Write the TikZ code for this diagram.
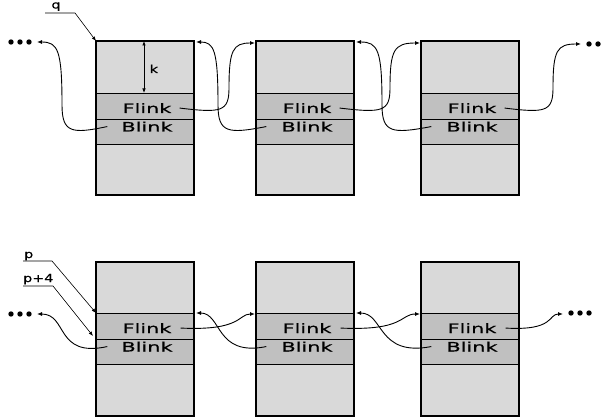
\documentclass[tikz,border=0pt]{standalone}
\usepackage{fontspec}
\usetikzlibrary{arrows.meta}
\newfontfamily\boxfont[FakeStretch=1.6,FakeBold=0.6]{DejaVu Sans}
\newfontfamily\tagfont[FakeStretch=1.3,FakeBold=0.4]{DejaVu Sans}
\definecolor{cellgray}{HTML}{D9D9D9}
\definecolor{bandgray}{HTML}{C0C0C0}
\tikzset{
  cell/.style={draw=black, line width=0.8pt, fill=cellgray, minimum width=98pt,
    inner sep=0pt, outer sep=0pt, anchor=north west},
  band/.style={cell, fill=bandgray},
  lbl/.style={font=\boxfont\fontsize{13}{15}\selectfont, anchor=base, inner sep=0pt},
  tag/.style={font=\tagfont\fontsize{11}{13}\selectfont, anchor=base, inner sep=0pt},
  link/.style={line width=0.9pt, -{Latex[length=5pt,width=4pt]}},
  ptr/.style={line width=0.6pt, -{Latex[length=4.5pt,width=3.5pt]}},
  dot/.style={fill=black},
}
\begin{document}
\begin{tikzpicture}[x=1pt,y=1pt]
\useasboundingbox (0,0) rectangle (604,-419);
\fill[white] (0,0) rectangle (604,-419);

% blocks
\foreach \r/\yt/\yf/\yb/\yc/\ye in {T/41/93/119/144/195, B/262/313/339/364/416}{
  \foreach \i/\x in {1/96,2/256,3/421}{
    \node[cell, minimum height={(\yf-\yt)*1pt}] (\r\i a) at (\x,-\yt) {};
    \node[band, minimum height={(\yb-\yf)*1pt}] (\r\i f) at (\x,-\yf) {};
    \node[band, minimum height={(\yc-\yb)*1pt}] (\r\i b) at (\x,-\yb) {};
    \node[cell, minimum height={(\ye-\yc)*1pt}] (\r\i c) at (\x,-\yc) {};
    \draw[line width=1.2pt] (\r\i a.north west) rectangle (\r\i c.south east);
    \node[lbl] (\r\i F) at (\x+51,-\yf-20) {Flink};
    \node[lbl] (\r\i B) at (\x+51,-\yb-12.5) {Blink};
  }
}

% ellipsis dots
\foreach \xx in {11,20,29}{ \fill[dot] (\xx,-42) circle (2.7); }
\foreach \xx in {589,598}{ \fill[dot] (\xx,-44) circle (2.7); }
\foreach \xx in {11,20,29}{ \fill[dot] (\xx,-314) circle (2.7); }
\foreach \xx in {571,580,589}{ \fill[dot] (\xx,-313) circle (2.7); }
\coordinate (dTL) at (37,-42);
\coordinate (dTR) at (581,-44);
\coordinate (dBL) at (37,-314);
\coordinate (dBR) at (563,-314);

% top row links
\draw[link] ([xshift=-14pt]T1B.west) .. controls (72,-134) and (62,-133) .. (62,-105)
  .. controls (62,-50) and (58,-42) .. (dTL);
\draw[link] ([xshift=8pt]T1F.east) .. controls (221,-113) and (229,-112) .. (229,-88)
  .. controls (229,-50) and (233,-43) .. ([xshift=-1pt,yshift=-2pt]T2a.north west);
\draw[link] ([xshift=-15pt]T2B.west) .. controls (228,-134) and (218,-133) .. (218,-105)
  .. controls (218,-50) and (214,-42) .. ([xshift=2pt,yshift=-1pt]T1a.north east);
\draw[link] ([xshift=8pt]T2F.east) .. controls (382,-113) and (390,-112) .. (390,-88)
  .. controls (390,-50) and (394,-43) .. ([xshift=-1pt,yshift=-2pt]T3a.north west);
\draw[link] ([xshift=-15pt]T3B.west) .. controls (392,-134) and (382,-133) .. (382,-105)
  .. controls (382,-50) and (378,-42) .. ([xshift=2pt,yshift=-1pt]T2a.north east);
\draw[link] ([xshift=8pt]T3F.east) .. controls (545,-113) and (553,-112) .. (553,-88)
  .. controls (553,-50) and (557,-44) .. (dTR);

% bottom row links
\draw[link] ([xshift=-14pt]B1B.west) .. controls (55,-358) and (68,-314) .. (dBL);
\draw[link] ([xshift=9pt]B1F.east) .. controls (242,-331) and (238,-314) .. ([xshift=-1pt,yshift=-1pt]B2f.north west);
\draw[link] ([xshift=-15pt]B2B.west) .. controls (215,-357) and (222,-313) .. ([xshift=2pt]B1f.north east);
\draw[link] ([xshift=9pt]B2F.east) .. controls (405,-331) and (400,-314) .. ([xshift=-1pt,yshift=-1pt]B3f.north west);
\draw[link] ([xshift=-15pt]B3B.west) .. controls (377,-357) and (384,-313) .. ([xshift=2pt]B2f.north east);
\draw[link] ([xshift=9pt]B3F.east) .. controls (555,-331) and (548,-314) .. (dBR);

% offset k
\draw[line width=0.7pt, {Latex[length=4.5pt,width=3.5pt]}-{Latex[length=4.5pt,width=3.5pt]}]
  ([xshift=48pt]T1a.north west) -- ([xshift=48pt]T1a.south west);
\node[tag, anchor=base west] (k) at (149.5,-73) {k};

% pointer labels
\node[tag] (q) at (56,-8.5) {q};
\coordinate (qa) at (45,-13);
\coordinate (qb) at (75,-13);
\draw[ptr] (qa) -- (qb) -- (T1a.north west);

\node[tag, anchor=base west] (p) at (24,-258) {p};
\coordinate (pa) at (23,-261);
\coordinate (pb) at (52,-261);
\draw[ptr] (pa) -- (pb) -- (B1f.north west);

\node[tag, anchor=base west] (p4) at (23,-282) {p+4};
\coordinate (p4a) at (23,-286);
\coordinate (p4b) at (53,-286);
\draw[ptr] (p4a) -- (p4b) -- ([xshift=-3pt,yshift=3pt]B1b.north west);
\end{tikzpicture}
\end{document}
